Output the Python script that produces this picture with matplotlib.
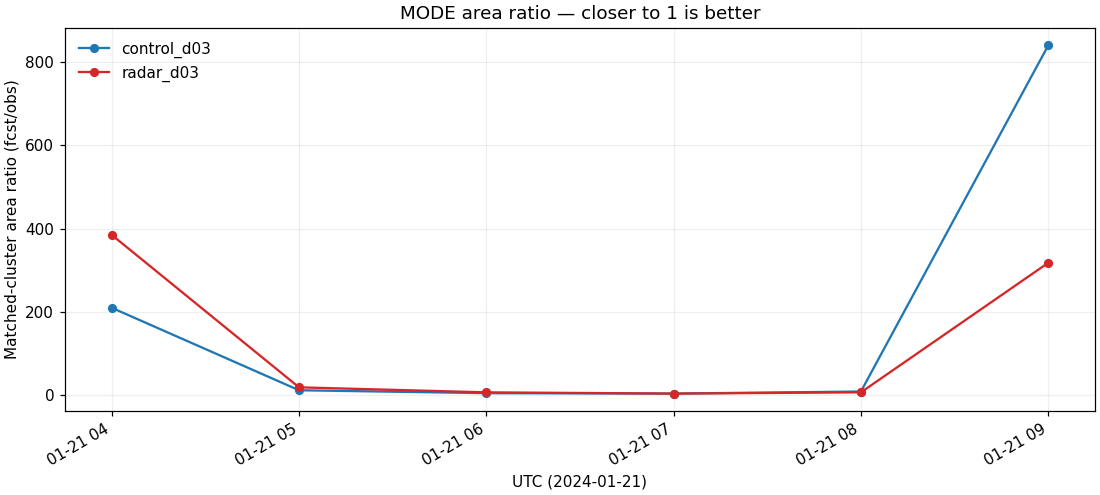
import matplotlib
matplotlib.use("Agg")
import matplotlib.pyplot as plt
import matplotlib.dates as mdates
import pandas as pd

times = pd.to_datetime(["2024-01-21 04:00", "2024-01-21 05:00", "2024-01-21 06:00",
                        "2024-01-21 07:00", "2024-01-21 08:00", "2024-01-21 09:00"])
control_d03 = [210, 12, 5, 4, 9, 840]
radar_d03 = [385, 19, 7, 4, 7, 318]

fig, ax = plt.subplots(figsize=(10, 4.5), dpi=110)
ax.plot(times, control_d03, marker="o", markersize=5, color="#1f77b4", label="control_d03")
ax.plot(times, radar_d03, marker="o", markersize=5, color="#d62728", label="radar_d03")

ax.set_title("MODE area ratio — closer to 1 is better")
ax.set_xlabel("UTC (2024-01-21)")
ax.set_ylabel("Matched-cluster area ratio (fcst/obs)")
ax.grid(True, alpha=0.2)
ax.legend(frameon=False, loc="upper left")
ax.xaxis.set_major_locator(mdates.HourLocator())
ax.xaxis.set_major_formatter(mdates.DateFormatter("%m-%d %H"))
fig.autofmt_xdate()
fig.subplots_adjust(left=0.059, right=0.9955, top=0.9434, bottom=0.1697)
fig.savefig("out.png")
